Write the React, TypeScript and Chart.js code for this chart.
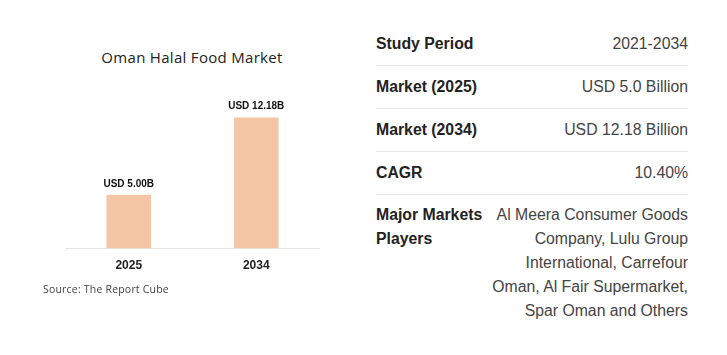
import React, { useEffect, useRef } from "react";
import { Chart, registerables } from "chart.js";

Chart.register(...registerables);

const categories = ["2025", "2034"];
const values = [5.0, 12.18];
const valueLabels = ["USD 5.00B", "USD 12.18B"];
const chartTitle = "Oman Halal Food Market";
const sourceText = "Source: The Report Cube";

const tableRows = [
  { label: "Study Period", value: "2021-2034" },
  { label: "Market (2025)", value: "USD 5.0 Billion" },
  { label: "Market (2034)", value: "USD 12.18 Billion" },
  { label: "CAGR", value: "10.40%" },
];
const playersLabel = ["Major Markets", "Players"];
const playersValue = [
  "Al Meera Consumer Goods",
  "Company, Lulu Group",
  "International, Carrefour",
  "Oman, Al Fair Supermarket,",
  "Spar Oman and Others",
];

const valueLabelPlugin = {
  id: "valueLabels",
  afterDatasetsDraw(chart: any) {
    const ctx = chart.ctx;
    const meta = chart.getDatasetMeta(0);
    ctx.save();
    ctx.font = "bold 10px Arial, 'Liberation Sans', sans-serif";
    ctx.fillStyle = "#111";
    ctx.textAlign = "center";
    ctx.textBaseline = "bottom";
    meta.data.forEach((bar: any, i: number) => {
      ctx.fillText(valueLabels[i], bar.x, bar.y - 6);
    });
    ctx.restore();
  },
};

function BarChart() {
  const ref = useRef<HTMLCanvasElement>(null);
  useEffect(() => {
    if (!ref.current) return;
    const chart = new Chart(ref.current, {
      type: "bar",
      data: {
        labels: categories,
        datasets: [
          {
            data: values,
            backgroundColor: "rgb(245,198,165)",
            barPercentage: 0.35,
            categoryPercentage: 1,
          },
        ],
      },
      options: {
        animation: false,
        responsive: false,
        maintainAspectRatio: false,
        layout: { padding: 0 },
        plugins: {
          legend: { display: false },
          tooltip: { enabled: false },
          title: { display: false },
        },
        scales: {
          x: {
            grid: { display: false, drawTicks: false },
            border: { display: true, color: "#e6e6e6", width: 1 },
            ticks: {
              color: "#222",
              padding: 10,
              font: { family: "Arial, 'Liberation Sans', sans-serif", size: 12, weight: "bold" },
            },
          },
          y: {
            display: false,
            min: 0,
            max: 16.6,
          },
        },
      },
      plugins: [valueLabelPlugin],
    });
    return () => chart.destroy();
  }, []);
  return <canvas ref={ref} width={255} height={213} style={{ display: "block" }} />;
}

export default function App() {
  return (
    <div
      style={{
        position: "relative",
        width: 727,
        height: 355,
        margin: -8,
        background: "#fff",
        overflow: "hidden",
      }}
    >
      <div
        style={{
          position: "absolute",
          left: 42,
          top: 47,
          width: 300,
          textAlign: "center",
          fontFamily: "'Open Sans', sans-serif",
          fontSize: 15,
          fontWeight: 500,
          letterSpacing: 0.3,
          color: "#222",
          lineHeight: "20px",
        }}
      >
        {chartTitle}
      </div>
      <div style={{ position: "absolute", left: 65, top: 70 }}>
        <BarChart />
      </div>
      <div
        style={{
          position: "absolute",
          left: 43,
          top: 282,
          fontFamily: "'Open Sans', sans-serif",
          fontSize: 10.5,
          letterSpacing: 0.2,
          color: "#444",
          lineHeight: "14px",
          whiteSpace: "nowrap",
        }}
      >
        {sourceText}
      </div>
      <div
        style={{
          position: "absolute",
          left: 376,
          top: 23,
          width: 312,
          fontFamily: "Arial, 'Liberation Sans', sans-serif",
          fontSize: 15.8,
          color: "#333",
        }}
      >
        {tableRows.map((r) => (
          <div
            key={r.label}
            style={{
              display: "flex",
              justifyContent: "space-between",
              height: 42,
              lineHeight: "42px",
              borderBottom: "1px solid #e8e8e8",
            }}
          >
            <span style={{ fontWeight: "bold", color: "#222" }}>{r.label}</span>
            <span style={{ color: "#444" }}>{r.value}</span>
          </div>
        ))}
        <div style={{ display: "flex", justifyContent: "space-between", paddingTop: 8, lineHeight: "24px" }}>
          <div style={{ fontWeight: "bold", color: "#222", whiteSpace: "nowrap" }}>
            {playersLabel.map((l) => (
              <div key={l}>{l}</div>
            ))}
          </div>
          <div style={{ textAlign: "right", color: "#444", whiteSpace: "nowrap" }}>
            {playersValue.map((l) => (
              <div key={l}>{l}</div>
            ))}
          </div>
        </div>
      </div>
    </div>
  );
}
